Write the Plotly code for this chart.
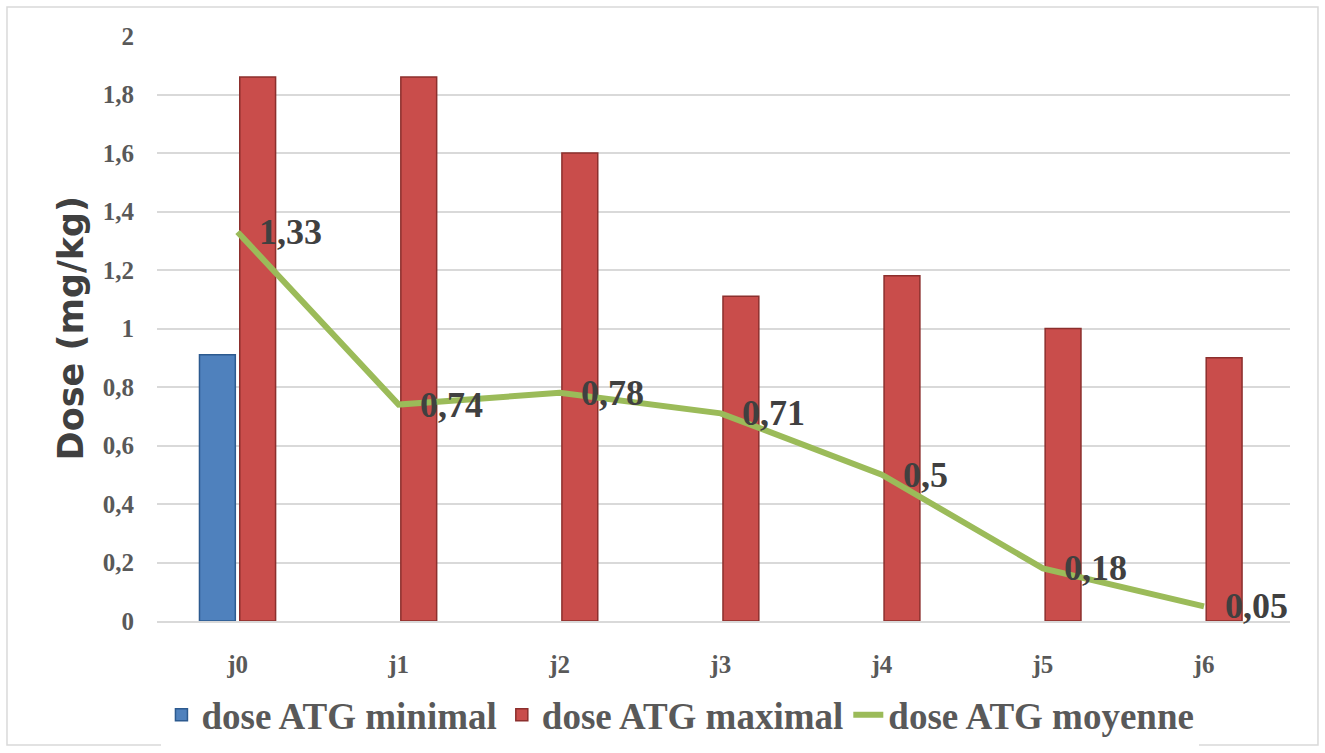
import plotly.graph_objects as go

# ATG dose per day (mg/kg)
jours = ["j0", "j1", "j2", "j3", "j4", "j5", "j6"]
dose_min = [0.91, None, None, None, None, None, None]
dose_max = [1.86, 1.86, 1.60, 1.11, 1.18, 1.00, 0.90]
dose_moy = [1.33, 0.74, 0.78, 0.71, 0.50, 0.18, 0.05]
y_ticks = [0, 0.2, 0.4, 0.6, 0.8, 1.0, 1.2, 1.4, 1.6, 1.8, 2.0]


def fr(v):
    """Format a number with a French decimal comma."""
    s = f"{v:.2f}".rstrip("0").rstrip(".")
    return s.replace(".", ",")


SERIF = "Liberation Serif"

fig = go.Figure()
fig.add_trace(go.Bar(
    x=jours, y=dose_min, name="dose ATG minimal",
    marker=dict(color="#4F81BD", line=dict(color="#2C5A8F", width=1.5)),
))
fig.add_trace(go.Bar(
    x=jours, y=dose_max, name="dose ATG maximal",
    marker=dict(color="#C94D4B", line=dict(color="#8C2F2D", width=1.5)),
))
fig.add_trace(go.Scatter(
    x=jours, y=dose_moy, name="dose ATG moyenne", mode="lines",
    line=dict(color="#9BBB59", width=6),
))

# value labels for the mean line
for j, v in zip(jours, dose_moy):
    fig.add_annotation(
        x=j, y=v, xref="x", yref="y", text=fr(v),
        showarrow=False, xanchor="left", yanchor="middle", xshift=19,
        font=dict(family=SERIF, size=36, color="#404040", weight="bold"),
    )

# y-axis title
fig.add_annotation(
    x=-0.076, y=0.5, xref="paper", yref="paper", text="Dose (mg/kg)",
    textangle=-90, showarrow=False, xanchor="center", yanchor="middle",
    font=dict(family="DejaVu Sans", size=35, color="#404040", weight=900),
)

# chart frame
fig.add_shape(
    type="rect", xref="paper", yref="paper",
    x0=-0.1324, x1=1.0247, y0=-0.212, y1=1.0496,
    line=dict(color="#D9D9D9", width=1.5), fillcolor="rgba(0,0,0,0)",
    layer="below",
)

fig.update_layout(
    width=1325, height=753,
    margin=dict(l=157, r=35, t=36, b=132, autoexpand=False),
    paper_bgcolor="white", plot_bgcolor="white",
    barmode="group", bargap=0.5, bargroupgap=0.11,
    showlegend=True,
    font=dict(family=SERIF),
    legend=dict(
        orientation="h", x=0.462, xanchor="center", y=-0.161, yanchor="middle",
        font=dict(family=SERIF, size=37, color="#595959", weight="bold"),
        itemwidth=30, tracegroupgap=0,
    ),
    xaxis=dict(
        showgrid=False, showline=True, linecolor="#D9D9D9", linewidth=1.5,
        tickfont=dict(family=SERIF, size=25, color="#595959", weight="bold"),
        ticklabelstandoff=20,
    ),
    yaxis=dict(
        range=[0, 2], tickvals=y_ticks,
        ticktext=[fr(t) for t in y_ticks],
        showgrid=True, gridcolor="#D9D9D9", gridwidth=1.5,
        zeroline=False, showline=False,
        tickfont=dict(family=SERIF, size=25, color="#595959", weight="bold"),
        ticklabelstandoff=22,
    ),
)

fig.write_html("out.html")
